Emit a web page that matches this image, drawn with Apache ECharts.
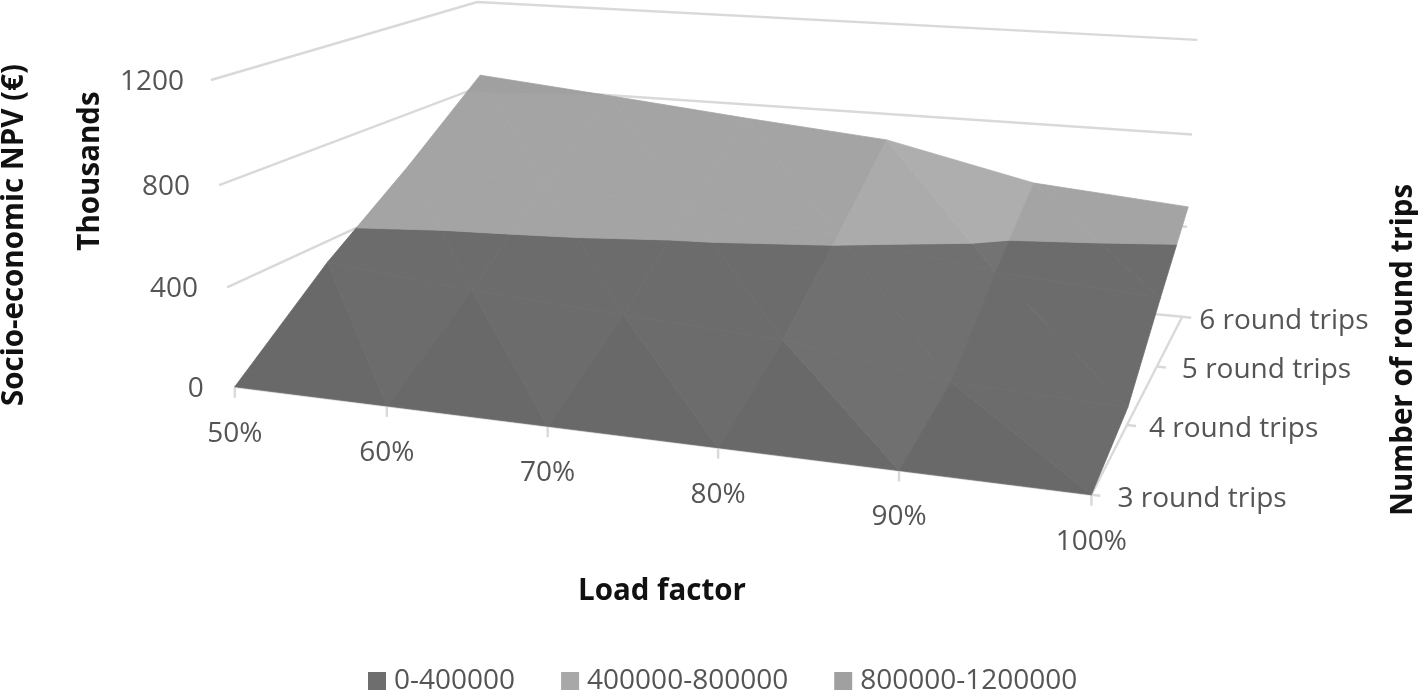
<!DOCTYPE html>
<html><head><meta charset="utf-8">
<style>html,body{margin:0;padding:0;background:#fff}#c{width:1418px;height:691px}</style>
<script src="https://cdn.jsdelivr.net/npm/echarts@6/dist/echarts.min.js"></script>
</head><body><div id="c"></div>
<script>
const loadFactors = ['50%','60%','70%','80%','90%','100%'];
const roundTrips = ['3 round trips','4 round trips','5 round trips','6 round trips'];
const valueTicks = [0,400,800,1200];
const npv3 = [0,0,0,0,0,0];
const npv4 = [312,256,218,185,90,69];
const npv5 = [571,538,480,425,328,284];
const npv6 = [854,797,737,683,539,487];
const bandNames = ['0-400000','400000-800000','800000-1200000'];
const bandColors = ['#6c6c6c','#a4a4a4','#a0a0a0'];

// Camera calibration: (load index, trips index, value/400) -> picture pixel
const cal = [
 [0,0,0,234,386],[1,0,0,386,406],[2,0,0,546,426],[3,0,0,717,448],[4,0,0,899,470],[5,0,0,1092,493],
 [5,1,0,1130,425],[5,2,0,1157,367],[5,3,0,1180,317],[5,3,1,1187,226],[5,3,2,1192,135],[5,3,3,1198,41],
 [0,0,1,226,287],[0,0,2,220,186],[0,0,3,213,82],[0,3,3,475,0],[0,3,2,480,85],[0,3,1,485,169],[0,3,0,490,252]
];
function fit(){
  const n=11,A=[...Array(n)].map(()=>Array(n+1).fill(0));
  const add=(r,b)=>{for(let i=0;i<n;i++){for(let j=0;j<n;j++)A[i][j]+=r[i]*r[j];A[i][n]+=r[i]*b;}};
  cal.forEach(([u,v,w,x,y])=>{x/=1000;y/=1000;
    add([u,v,w,1,0,0,0,0,-x*u,-x*v,-x*w],x);
    add([0,0,0,0,u,v,w,1,-y*u,-y*v,-y*w],y);});
  for(let i=0;i<n;i++){let m=i;for(let k=i+1;k<n;k++)if(Math.abs(A[k][i])>Math.abs(A[m][i]))m=k;
    [A[i],A[m]]=[A[m],A[i]];
    for(let k=0;k<n;k++)if(k!==i){const f=A[k][i]/A[i][i];for(let j=i;j<=n;j++)A[k][j]-=f*A[i][j];}}
  return A.map((r,i)=>r[n]/r[i]);
}
const P=fit();
function proj(u,v,w){const d=P[8]*u+P[9]*v+P[10]*w+1;
  return [1000*(P[0]*u+P[1]*v+P[2]*w+P[3])/d,1000*(P[4]*u+P[5]*v+P[6]*w+P[7])/d];}

const grid3=[npv3,npv4,npv5,npv6];
const tris=[];
for(let v=0;v<3;v++)for(let u=0;u<5;u++){
  const V=(i,j)=>[i,j,grid3[j][i]/400];
  tris.push({p:[V(u,v),V(u+1,v),V(u,v+1)],front:v===0});
  tris.push({p:[V(u+1,v),V(u,v+1),V(u+1,v+1)],front:false});
}
function clip(poly,lo,hi){
  const cut=(pts,keep,level)=>{const o=[];for(let i=0;i<pts.length;i++){const a=pts[i],b=pts[(i+1)%pts.length],
    ka=keep(a[2]),kb=keep(b[2]);if(ka)o.push(a);if(ka!==kb){const t=(level-a[2])/(b[2]-a[2]);
    o.push([a[0]+t*(b[0]-a[0]),a[1]+t*(b[1]-a[1]),level]);}}return o;};
  return cut(cut(poly,w=>w>=lo,lo),w=>w<=hi,hi);
}
// Facet shading: faces falling steeply towards the high load factors catch more light
function shade(hex,t){
  const [a,b,c]=t.p;
  const ax=b[0]-a[0],ay=b[1]-a[1],az=b[2]-a[2],bx=c[0]-a[0],by=c[1]-a[1],bz=c[2]-a[2];
  const nx=ay*bz-az*by,nz=ax*by-ay*bx;
  const fall=nx/nz;
  const f=1+(fall>0.18?0.17*fall:0)-(t.front?0.03:0);
  const g=Math.max(0,Math.min(255,Math.round(parseInt(hex.slice(1,3),16)*f)));
  return 'rgb('+g+','+g+','+g+')';
}
const toPx=(api,p)=>api.coord(p);
const lineCol='#d9d9d9';
function seg(api,pts){return {type:'polyline',shape:{points:pts.map(p=>toPx(api,p))},style:{stroke:lineCol,lineWidth:2.4,fill:null}};}

const frameSeries={type:'custom',name:'frame',coordinateSystem:'cartesian2d',clip:false,silent:true,z:1,
  data:[[0,0]],
  renderItem(params,api){
    const ch=[];
    valueTicks.forEach(t=>{const w=t/400;ch.push(seg(api,[proj(0,0,w),proj(0,3,w),proj(5,3,w)]));});
    ch.push(seg(api,[proj(0,0,0),proj(5,0,0),proj(5,3,0)]));
    loadFactors.forEach((l,i)=>{const p=proj(i,0,0);ch.push(seg(api,[p,[p[0],p[1]+11]]));});
    roundTrips.forEach((l,j)=>{const p=proj(5,j,0);ch.push(seg(api,[p,[p[0]+9,p[1]+1]]));});
    return {type:'group',children:ch};
  }};
const bandSeries=bandNames.map((name,b)=>({type:'custom',name,coordinateSystem:'cartesian2d',clip:false,silent:true,z:2+b,
  itemStyle:{color:['#6e6e6e','#a8a8a8','#a0a0a0'][b]},
  data:tris.map((t,i)=>[i,0]),
  renderItem(params,api){
    const t=tris[api.value(0)],poly=clip(t.p,b,b+1);
    if(poly.length<3)return null;
    const col=shade(bandColors[b],t);
    return {type:'polygon',shape:{points:poly.map(p=>toPx(api,proj(...p)))},style:{fill:col,stroke:col,lineWidth:0.8}};
  }}));
const F='"Open Sans"';
const txt=(api,p,text,o)=>({type:'text',x:toPx(api,p)[0],y:toPx(api,p)[1],style:Object.assign({text,fill:'#555555',font:'28px '+F,verticalAlign:'middle'},o)});
const labelSeries={type:'custom',name:'labels',coordinateSystem:'cartesian2d',clip:false,silent:true,z:10,
  data:[[0,0]],
  renderItem(params,api){
    const ch=[];
    loadFactors.forEach((l,i)=>{const p=proj(i,0,0);ch.push(txt(api,[p[0],p[1]+47],l,{align:'center'}));});
    const dx=[26,22,25,17];
    roundTrips.forEach((l,j)=>{const p=proj(5,j,0);ch.push(txt(api,[p[0]+dx[j],p[1]+4],l,{align:'left'}));});
    const vx=[-31,-29,-29,-27];
    valueTicks.forEach((t,k)=>{const p=proj(0,0,t/400);ch.push(txt(api,[p[0]+vx[k],p[1]+2],String(t),{align:'right'}));});
    return {type:'group',children:ch};
  }};
const axisFont='bold 29.5px '+F;
const chart=echarts.init(document.getElementById('c'),null,{renderer:'canvas'});
chart.setOption({
  animation:false,backgroundColor:'#fff',
  grid:{left:0,right:0,top:0,bottom:0},
  xAxis:{type:'value',min:0,max:1418,show:false},
  yAxis:{type:'value',min:0,max:691,inverse:true,show:false},
  legend:{data:bandNames,top:667,left:368,padding:0,height:18,icon:'rect',itemWidth:18,itemHeight:18,itemGap:46,selectedMode:false,
    textStyle:{fontFamily:'Open Sans',fontSize:28,lineHeight:18,color:'#555555',padding:[0,0,0,3]}},
  graphic:[
    {type:'text',x:15,y:235,rotation:Math.PI/2,style:{text:'Socio-economic NPV (€)',font:axisFont,fill:'#111',align:'center',verticalAlign:'middle'}},
    {type:'text',x:91,y:171,rotation:Math.PI/2,style:{text:'Thousands',font:axisFont,fill:'#111',align:'center',verticalAlign:'middle'}},
    {type:'text',x:1404,y:350,rotation:Math.PI/2,style:{text:'Number of round trips',font:axisFont,fill:'#111',align:'center',verticalAlign:'middle'}},
    {type:'text',x:662,y:592,style:{text:'Load factor',font:axisFont,fill:'#111',align:'center',verticalAlign:'middle'}}
  ],
  series:[frameSeries,...bandSeries,labelSeries]
});
</script></body></html>
